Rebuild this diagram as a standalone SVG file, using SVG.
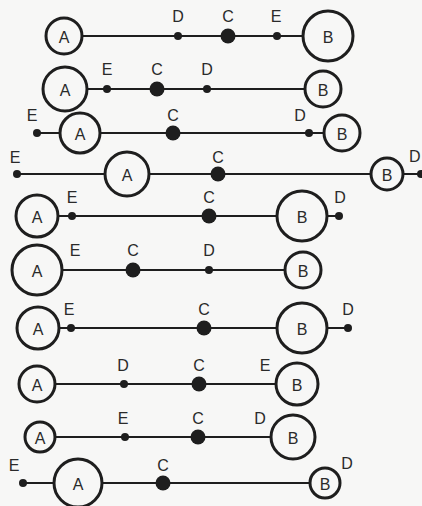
<svg xmlns="http://www.w3.org/2000/svg" width="422" height="506" viewBox="0 0 422 506">
<style>
.bg{fill:#f7f7f6}
.ln{stroke:#1e1e1e;stroke-width:2.2;fill:none}
.ring{fill:#f7f7f6;stroke:#1e1e1e;stroke-width:3}
.sd{fill:#1e1e1e}
.bd{fill:#1e1e1e}
text{font-family:"Liberation Sans","DejaVu Sans",sans-serif;font-size:16px;fill:#2a2a2a}
.in{text-anchor:middle;dominant-baseline:central}
.lb{text-anchor:middle}
</style>
<rect class="bg" x="0" y="0" width="422" height="506"/>
<g id="connectors">
<line class="ln" x1="64" y1="36" x2="328" y2="36"/>
<line class="ln" x1="65" y1="89" x2="323" y2="89"/>
<line class="ln" x1="37" y1="133" x2="342" y2="133"/>
<line class="ln" x1="17" y1="174" x2="422" y2="174"/>
<line class="ln" x1="37" y1="216" x2="339" y2="216"/>
<line class="ln" x1="37" y1="270" x2="303" y2="270"/>
<line class="ln" x1="38" y1="328" x2="348" y2="328"/>
<line class="ln" x1="37" y1="384" x2="297" y2="384"/>
<line class="ln" x1="40" y1="437" x2="293" y2="437"/>
<line class="ln" x1="23" y1="483" x2="325" y2="483"/>
</g>
<!-- Row 1 -->
<g id="r1-A"><circle class="ring" cx="64" cy="36" r="18"/><text class="in" x="64" y="37">A</text></g>
<g id="r1-D"><circle class="sd" cx="178" cy="36" r="4"/><text class="lb" x="178" y="22">D</text></g>
<g id="r1-C"><circle class="bd" cx="228" cy="36" r="7.5"/><text class="lb" x="228" y="22">C</text></g>
<g id="r1-E"><circle class="sd" cx="277" cy="36" r="4"/><text class="lb" x="276" y="22">E</text></g>
<g id="r1-B"><circle class="ring" cx="328" cy="36" r="25"/><text class="in" x="328" y="37">B</text></g>
<!-- Row 2 -->
<g id="r2-A"><circle class="ring" cx="65" cy="89" r="22"/><text class="in" x="65" y="90">A</text></g>
<g id="r2-E"><circle class="sd" cx="107" cy="89" r="4"/><text class="lb" x="107" y="75">E</text></g>
<g id="r2-C"><circle class="bd" cx="157" cy="89" r="7.5"/><text class="lb" x="157" y="75">C</text></g>
<g id="r2-D"><circle class="sd" cx="207" cy="89" r="4"/><text class="lb" x="207" y="75">D</text></g>
<g id="r2-B"><circle class="ring" cx="323" cy="89" r="18"/><text class="in" x="323" y="90">B</text></g>
<!-- Row 3 -->
<g id="r3-E"><circle class="sd" cx="37" cy="133" r="4"/><text class="lb" x="32" y="121">E</text></g>
<g id="r3-A"><circle class="ring" cx="80" cy="133" r="20"/><text class="in" x="80" y="134">A</text></g>
<g id="r3-C"><circle class="bd" cx="173" cy="133" r="7.5"/><text class="lb" x="173" y="121">C</text></g>
<g id="r3-D"><circle class="sd" cx="309" cy="133" r="4"/><text class="lb" x="300" y="121">D</text></g>
<g id="r3-B"><circle class="ring" cx="342" cy="133" r="18"/><text class="in" x="342" y="134">B</text></g>
<!-- Row 4 -->
<g id="r4-E"><circle class="sd" cx="17" cy="174" r="4"/><text class="lb" x="15" y="163">E</text></g>
<g id="r4-A"><circle class="ring" cx="127" cy="174" r="22"/><text class="in" x="127" y="175">A</text></g>
<g id="r4-C"><circle class="bd" cx="218" cy="174" r="7.5"/><text class="lb" x="218" y="163">C</text></g>
<g id="r4-B"><circle class="ring" cx="387" cy="174" r="16"/><text class="in" x="387" y="175">B</text></g>
<g id="r4-D"><circle class="sd" cx="421" cy="174" r="4"/><text x="409" y="162">D</text></g>
<!-- Row 5 -->
<g id="r5-A"><circle class="ring" cx="37" cy="216" r="21"/><text class="in" x="37" y="217">A</text></g>
<g id="r5-E"><circle class="sd" cx="72" cy="216" r="4"/><text class="lb" x="72" y="203">E</text></g>
<g id="r5-C"><circle class="bd" cx="209" cy="216" r="7.5"/><text class="lb" x="209" y="203">C</text></g>
<g id="r5-B"><circle class="ring" cx="302" cy="216" r="25"/><text class="in" x="302" y="217">B</text></g>
<g id="r5-D"><circle class="sd" cx="339" cy="216" r="4"/><text class="lb" x="340" y="203">D</text></g>
<!-- Row 6 -->
<g id="r6-A"><circle class="ring" cx="37" cy="270" r="25"/><text class="in" x="37" y="271">A</text></g>
<g id="r6-E"><text class="lb" x="75" y="256">E</text></g>
<g id="r6-C"><circle class="bd" cx="133" cy="270" r="7.5"/><text class="lb" x="133" y="256">C</text></g>
<g id="r6-D"><circle class="sd" cx="209" cy="270" r="4"/><text class="lb" x="209" y="256">D</text></g>
<g id="r6-B"><circle class="ring" cx="303" cy="270" r="18"/><text class="in" x="303" y="271">B</text></g>
<!-- Row 7 -->
<g id="r7-A"><circle class="ring" cx="38" cy="328" r="21"/><text class="in" x="38" y="329">A</text></g>
<g id="r7-E"><circle class="sd" cx="71" cy="328" r="4"/><text class="lb" x="69" y="315">E</text></g>
<g id="r7-C"><circle class="bd" cx="204" cy="328" r="7.5"/><text class="lb" x="204" y="315">C</text></g>
<g id="r7-B"><circle class="ring" cx="302" cy="328" r="25"/><text class="in" x="302" y="329">B</text></g>
<g id="r7-D"><circle class="sd" cx="348" cy="328" r="4"/><text class="lb" x="348" y="315">D</text></g>
<!-- Row 8 -->
<g id="r8-A"><circle class="ring" cx="37" cy="384" r="18"/><text class="in" x="37" y="385">A</text></g>
<g id="r8-D"><circle class="sd" cx="124" cy="384" r="4"/><text class="lb" x="123" y="371">D</text></g>
<g id="r8-C"><circle class="bd" cx="199" cy="384" r="7.5"/><text class="lb" x="199" y="371">C</text></g>
<g id="r8-E"><text class="lb" x="265" y="371">E</text></g>
<g id="r8-B"><circle class="ring" cx="297" cy="384" r="21"/><text class="in" x="297" y="385">B</text></g>
<!-- Row 9 -->
<g id="r9-A"><circle class="ring" cx="40" cy="437" r="15"/><text class="in" x="40" y="438">A</text></g>
<g id="r9-E"><circle class="sd" cx="125" cy="437" r="4"/><text class="lb" x="123" y="424">E</text></g>
<g id="r9-C"><circle class="bd" cx="198" cy="437" r="7.5"/><text class="lb" x="198" y="424">C</text></g>
<g id="r9-D"><text class="lb" x="260" y="424">D</text></g>
<g id="r9-B"><circle class="ring" cx="293" cy="437" r="22"/><text class="in" x="293" y="438">B</text></g>
<!-- Row 10 -->
<g id="r10-E"><circle class="sd" cx="23" cy="483" r="4"/><text class="lb" x="14" y="471">E</text></g>
<g id="r10-A"><circle class="ring" cx="78" cy="483" r="24"/><text class="in" x="78" y="484">A</text></g>
<g id="r10-C"><circle class="bd" cx="163" cy="483" r="7.5"/><text class="lb" x="163" y="471">C</text></g>
<g id="r10-B"><circle class="ring" cx="325" cy="483" r="15"/><text class="in" x="325" y="484">B</text></g>
<g id="r10-D"><text class="lb" x="347" y="469">D</text></g>
</svg>
